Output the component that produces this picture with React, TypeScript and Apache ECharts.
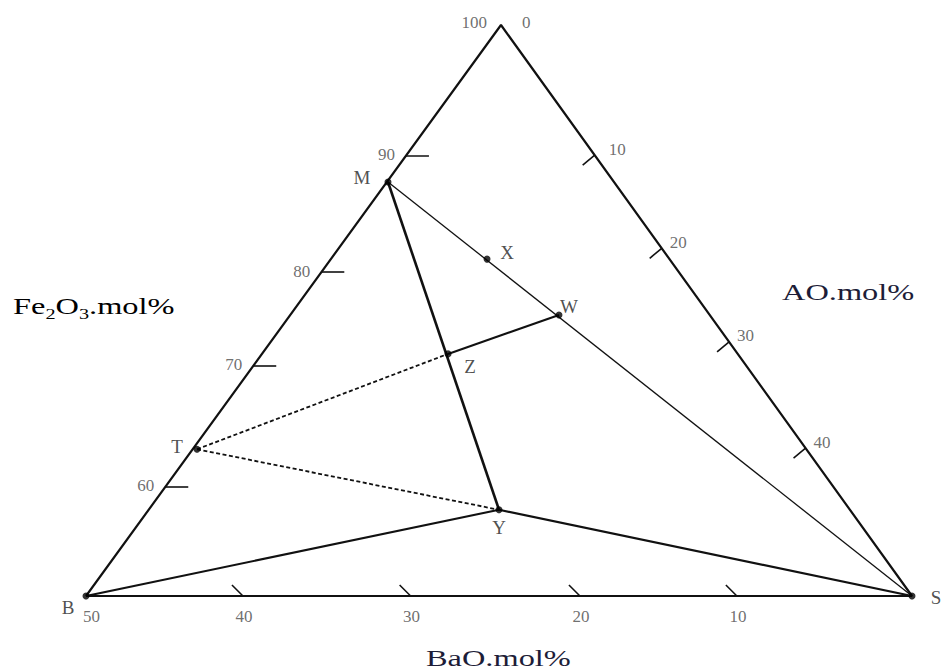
import React, { useEffect, useRef } from "react";
import * as echarts from "echarts";

// Diagram units: x runs along the base from B (0) to S (100); y from the base (0) to the Fe2O3 apex (100).
const vertexNames = ["B", "S", "A"];
const vertexX = [0, 100, 50.24];
const vertexY = [0, 0, 100];

const pointNames = ["M", "X", "W", "Z", "T", "Y"];
const pointX = [36.56, 48.55, 57.26, 43.83, 13.44, 50.0];
const pointY = [72.5, 59.0, 49.2, 42.4, 25.7, 15.1];

const thickSegments = [["M", "Y"]];
const solidSegments = [["W", "Z"], ["B", "Y"], ["Y", "S"]];
const thinSegments = [["M", "S"]];
const dashedSegments = [["T", "Z"], ["T", "Y"]];

// Tick marks: label and height / position along each edge (diagram units)
const fe2o3TickLabels = ["90", "80", "70", "60"];
const fe2o3TickPos = [77.1, 56.7, 40.3, 19.1];
const aoTickLabels = ["10", "20", "30", "40"];
const aoTickPos = [77.2, 60.9, 44.5, 25.9];
const baoTickLabels = ["40", "30", "20", "10"];
const baoTickPos = [19.0, 39.3, 59.8, 78.8];

const axisNames = { left: "Fe2O3.mol%", right: "AO.mol%", bottom: "BaO.mol%" };

const GRID = { left: 86, right: 29, top: 25, bottom: 76 };
const W = 941;
const H = 672;
const PX = (W - GRID.left - GRID.right) / 100;
const PY = (H - GRID.top - GRID.bottom) / 100;

const SERIF = "Liberation Serif";

function coord(name: string): number[] {
  const i = pointNames.indexOf(name);
  if (i >= 0) return [pointX[i], pointY[i]];
  const j = vertexNames.indexOf(name);
  return [vertexX[j], vertexY[j]];
}
function leftEdge(h: number) {
  return [vertexX[0] + (vertexX[2] - vertexX[0]) * h / 100, h];
}
function rightEdge(h: number) {
  return [vertexX[1] - (vertexX[1] - vertexX[2]) * h / 100, h];
}

function segSeries(segs: string[][], width: number, type: any) {
  return segs.map((s) => ({
    type: "line",
    data: [coord(s[0]), coord(s[1])],
    symbol: "none",
    lineStyle: { color: "#111", width, type },
    silent: true,
    z: 3,
  }));
}

export default function App() {
  const ref = useRef<HTMLDivElement>(null);
  useEffect(() => {
    if (!ref.current) return;
    const chart = echarts.init(ref.current, undefined, { renderer: "svg" });

    const tickLines: any[] = [];
    const tickLabels: any[] = [];
    const lbl = (value: number[], text: string, align: string, offset: number[]) => ({
      value,
      label: { formatter: text, align, offset },
    });

    fe2o3TickPos.forEach((h, i) => {
      const p = leftEdge(h);
      tickLines.push({ coords: [p, [p[0] + 23 / PX, p[1]]] });
      tickLabels.push(lbl(p, fe2o3TickLabels[i], "right", [-11, -1]));
    });
    aoTickPos.forEach((h, i) => {
      const p = rightEdge(h);
      tickLines.push({ coords: [p, [p[0] - 12 / PX, p[1] - 10 / PY]] });
      tickLabels.push(lbl(p, aoTickLabels[i], "left", [i === 0 ? 14 : 8, -6]));
    });
    baoTickPos.forEach((x, i) => {
      const p = [x, 0];
      tickLines.push({ coords: [p, [x - 11 / PX, 11 / PY]] });
      tickLabels.push(lbl(p, baoTickLabels[i], "center", [1, 20]));
    });
    const apex = coord("A");
    tickLabels.push(lbl(apex, "100", "right", [-14, -3]));
    tickLabels.push(lbl(apex, "0", "left", [21, -3]));
    tickLabels.push(lbl(coord("B"), "50", "left", [-3, 20]));

    const labelOffsets: Record<string, number[]> = {
      M: [-26, -5], X: [20, -7], W: [10, -9], Z: [22, 13], T: [-20, -3], Y: [0, 18], B: [-18, 11], S: [24, 1],
    };
    const dots = [...pointNames, "B", "S"].map((n) => ({
      name: n,
      value: coord(n),
      label: { offset: labelOffsets[n] },
    }));

    const rich = {
      a: { fontFamily: SERIF, fontSize: 24, lineHeight: 30, color: "#1d1d38", verticalAlign: "middle" },
      s: { fontFamily: SERIF, fontSize: 15, lineHeight: 30, color: "#1d1d38", verticalAlign: "bottom" },
    };

    chart.setOption({
      animation: false,
      grid: { ...GRID },
      xAxis: { type: "value", min: 0, max: 100, show: false },
      yAxis: { type: "value", min: 0, max: 100, show: false },
      series: [
        {
          type: "line",
          data: [coord("B"), coord("A"), coord("S"), coord("B")],
          symbol: "none",
          lineStyle: { color: "#111", width: 2.2 },
          silent: true,
          z: 3,
        },
        ...segSeries(thickSegments, 2.6, "solid"),
        ...segSeries(solidSegments, 2.1, "solid"),
        ...segSeries(thinSegments, 1.3, "solid"),
        ...segSeries(dashedSegments, 1.8, [4, 2.5]),
        {
          type: "lines",
          coordinateSystem: "cartesian2d",
          data: tickLines,
          lineStyle: { color: "#111", width: 1.6, opacity: 1 },
          silent: true,
          z: 3,
        },
        {
          type: "scatter",
          data: tickLabels,
          symbolSize: 1,
          itemStyle: { color: "rgba(0,0,0,0)" },
          label: {
            show: true,
            position: "inside",
            verticalAlign: "middle",
            fontFamily: SERIF,
            fontSize: 17,
            color: "#4a4a4a",
          },
          silent: true,
          z: 4,
        },
        {
          type: "scatter",
          data: dots,
          symbolSize: 7,
          itemStyle: { color: "#000" },
          label: {
            show: true,
            position: "inside",
            align: "center",
            verticalAlign: "middle",
            formatter: "{b}",
            fontFamily: SERIF,
            fontSize: 19,
            color: "#222",
          },
          silent: true,
          z: 5,
        },
      ],
      graphic: [
        {
          type: "text",
          x: 13,
          y: 306,
          scaleX: 1.35,
          style: {
            text: "{a|Fe}{s|2}{a|O}{s|3}{a|.mol%}",
            rich,
            align: "left",
            verticalAlign: "middle",
          },
        },
        {
          type: "text",
          x: 782,
          y: 292,
          scaleX: 1.35,
          style: {
            text: axisNames.right,
            fontFamily: SERIF,
            fontSize: 24,
            fill: "#1d1d38",
            align: "left",
            verticalAlign: "middle",
          },
        },
        {
          type: "text",
          x: 426,
          y: 658,
          scaleX: 1.35,
          style: {
            text: axisNames.bottom,
            fontFamily: SERIF,
            fontSize: 24,
            fill: "#1d1d38",
            align: "left",
            verticalAlign: "middle",
          },
        },
      ],
    });
    return () => chart.dispose();
  }, []);

  return (
    <div
      ref={ref}
      style={{ position: "fixed", left: 0, top: 0, width: W, height: H, background: "#fff" }}
    />
  );
}
